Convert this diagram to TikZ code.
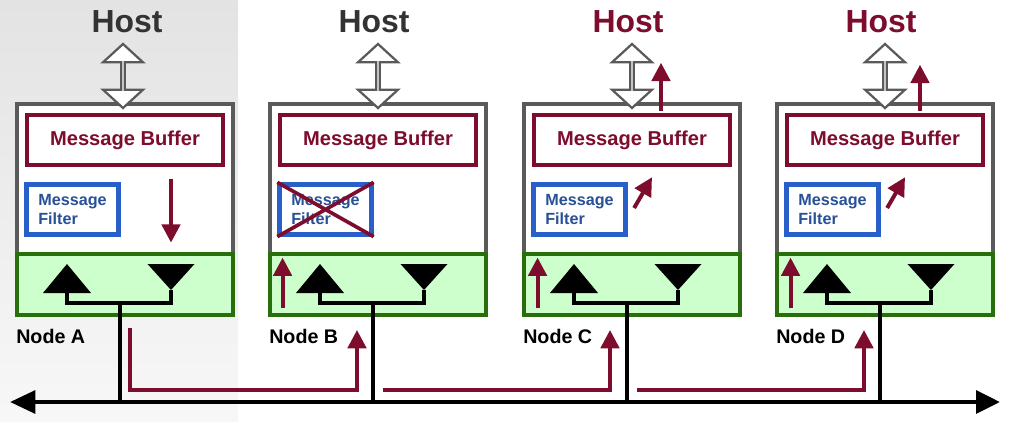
\documentclass[tikz,border=0pt]{standalone}
\usepackage{fontspec}
\setmainfont{Liberation Sans}
\usetikzlibrary{arrows.meta,shapes.arrows}
\definecolor{maroon}{RGB}{125,12,45}
\definecolor{hostgray}{RGB}{51,51,51}
\definecolor{boxgray}{RGB}{90,90,90}
\definecolor{radiogreen}{RGB}{40,110,10}
\definecolor{radiofill}{RGB}{204,255,204}
\definecolor{filterblue}{RGB}{40,95,200}
\definecolor{filtertext}{RGB}{40,80,150}

\begin{document}
\begin{tikzpicture}[x=0.025cm, y=-0.025cm,
  host/.style={font=\fontsize{22.7}{26}\selectfont\bfseries, text=hostgray, anchor=base},
  hostc/.style={host, text=maroon},
  hostlink/.style={double arrow, rotate=90, draw=boxgray, line width=1.6pt, fill=white, inner sep=0pt, minimum height=1.6cm, minimum width=1cm, double arrow head extend=0.29cm, double arrow tip angle=95},
  outer/.style={draw=boxgray, line width=3.4pt, fill=white, minimum width=5.4cm, minimum height=3.75cm},
  radio/.style={draw=radiogreen, line width=3.4pt, fill=radiofill, minimum width=5.4cm, minimum height=1.525cm},
  buffer/.style={draw=maroon, line width=3.2pt, fill=white, minimum width=4.9cm, minimum height=1.25cm, text=maroon, font=\fontsize{14.3}{17}\selectfont\bfseries},
  filter/.style={draw=filterblue, line width=3pt, fill=white, minimum width=2.3cm, minimum height=1.25cm, text=filtertext, align=left, font=\fontsize{11.5}{13.5}\selectfont\bfseries},
  lbl/.style={anchor=base west, inner sep=0pt, font=\fontsize{14}{16}\selectfont\bfseries},
  wire/.style={line width=3.2pt},
  bus/.style={line width=3.2pt, {Triangle[length=18pt,width=16pt]}-{Triangle[length=17pt,width=16pt]}},
  flow/.style={draw=maroon, line width=2.8pt, -{Triangle[length=13pt,width=13pt]}},
  cross/.style={draw=maroon, line width=2.6pt}]
\useasboundingbox (0,0) rectangle (1009,422);
\shade[top color=gray!22, bottom color=gray!6] (0,0) rectangle (238,422);

\node[outer] (outA) at (125,179) {};
\node[radio] (radioA) at (125,284.5) {};
\node[buffer] (bufA) at (125,140) {Message Buffer};
\node[filter] (filtA) at (72.5,209.5) {Message\\Filter};
\node[host] (hostA) at (127,32) {Host};
\node[hostlink] (linkA) at (123,76) {};
\node[lbl] (nameA) at (16,343) {Node A};

\node[outer] (outB) at (378,179) {};
\node[radio] (radioB) at (378,284.5) {};
\node[buffer] (bufB) at (378,140) {Message Buffer};
\node[filter] (filtB) at (325.5,209.5) {Message\\Filter};
\node[host] (hostB) at (374,32) {Host};
\node[hostlink] (linkB) at (378,76) {};
\node[lbl] (nameB) at (269,343) {Node B};

\node[outer] (outC) at (632,179) {};
\node[radio] (radioC) at (632,284.5) {};
\node[buffer] (bufC) at (632,140) {Message Buffer};
\node[filter] (filtC) at (579.5,209.5) {Message\\Filter};
\node[hostc] (hostC) at (628,32) {Host};
\node[hostlink] (linkC) at (632,76) {};
\node[lbl] (nameC) at (523,343) {Node C};

\node[outer] (outD) at (885,179) {};
\node[radio] (radioD) at (885,284.5) {};
\node[buffer] (bufD) at (885,140) {Message Buffer};
\node[filter] (filtD) at (832.5,209.5) {Message\\Filter};
\node[hostc] (hostD) at (881,32) {Host};
\node[hostlink] (linkD) at (885,76) {};
\node[lbl] (nameD) at (776,343) {Node D};

\coordinate (busL) at (10,402);
\coordinate (busR) at (1000,402);
\draw[bus] (busL) -- (busR);

\coordinate (jA) at (120,303);
\coordinate (jB) at (373,303);
\coordinate (jC) at (627,303);
\coordinate (jD) at (880,303);
\coordinate (upA) at (67,293);
\coordinate (upB) at (320,293);
\coordinate (upC) at (574,293);
\coordinate (upD) at (827,293);
\coordinate (dnA) at (171,290);
\coordinate (dnB) at (424,290);
\coordinate (dnC) at (678,290);
\coordinate (dnD) at (931,290);

\fill (upA) -- ++(-24,0) -- ++(24,-29) -- ++(24,29) -- cycle;
\fill (dnA) -- ++(-23.5,-26) -- ++(47,0) -- cycle;
\fill (upB) -- ++(-24,0) -- ++(24,-29) -- ++(24,29) -- cycle;
\fill (dnB) -- ++(-23.5,-26) -- ++(47,0) -- cycle;
\fill (upC) -- ++(-24,0) -- ++(24,-29) -- ++(24,29) -- cycle;
\fill (dnC) -- ++(-23.5,-26) -- ++(47,0) -- cycle;
\fill (upD) -- ++(-24,0) -- ++(24,-29) -- ++(24,29) -- cycle;
\fill (dnD) -- ++(-23.5,-26) -- ++(47,0) -- cycle;

\draw[wire] (upA) -- (upA |- jA) -- (dnA |- jA) -- (dnA);
\draw[wire] (upB) -- (upB |- jB) -- (dnB |- jB) -- (dnB);
\draw[wire] (upC) -- (upC |- jC) -- (dnC |- jC) -- (dnC);
\draw[wire] (upD) -- (upD |- jD) -- (dnD |- jD) -- (dnD);
\draw[wire] (jA) -- (jA |- busL);
\draw[wire] (jB) -- (jB |- busL);
\draw[wire] (jC) -- (jC |- busL);
\draw[wire] (jD) -- (jD |- busL);

\draw[flow] ([shift={(46,12)}]bufA.south) -- ([shift={(46,-9)}]radioA.north);
\draw[cross] (filtB.north west) -- (filtB.south east) (filtB.south west) -- (filtB.north east);
\draw[flow] ([shift={(15,-9)}]radioB.south west) -- ([shift={(15,6)}]radioB.north west);
\draw[flow] ([shift={(16,-9)}]radioC.south west) -- ([shift={(16,6)}]radioC.north west);
\draw[flow] ([shift={(16,-9)}]radioD.south west) -- ([shift={(16,6)}]radioD.north west);
\draw[flow] ([shift={(6.5,-1.5)}]filtC.east) -- ([shift={(20,10)}]bufC.south);
\draw[flow] ([shift={(6.5,-1.5)}]filtD.east) -- ([shift={(20,10)}]bufD.south);
\draw[flow] ([shift={(29,-2)}]bufC.north) -- ([shift={(29,-50)}]bufC.north);
\draw[flow] ([shift={(35,-2)}]bufD.north) -- ([shift={(35,-48)}]bufD.north);

\coordinate (tapA) at (130,328);
\coordinate (tapB) at (383,390);
\coordinate (tapC) at (637,390);
\coordinate (inB) at (357,330);
\coordinate (inC) at (610,330);
\coordinate (inD) at (864,330);
\draw[flow] (tapA) |- (inB |- tapB) -- (inB);
\draw[flow] (tapB) -- (inC |- tapB) -- (inC);
\draw[flow] (tapC) -- (inD |- tapC) -- (inD);
\end{tikzpicture}
\end{document}
